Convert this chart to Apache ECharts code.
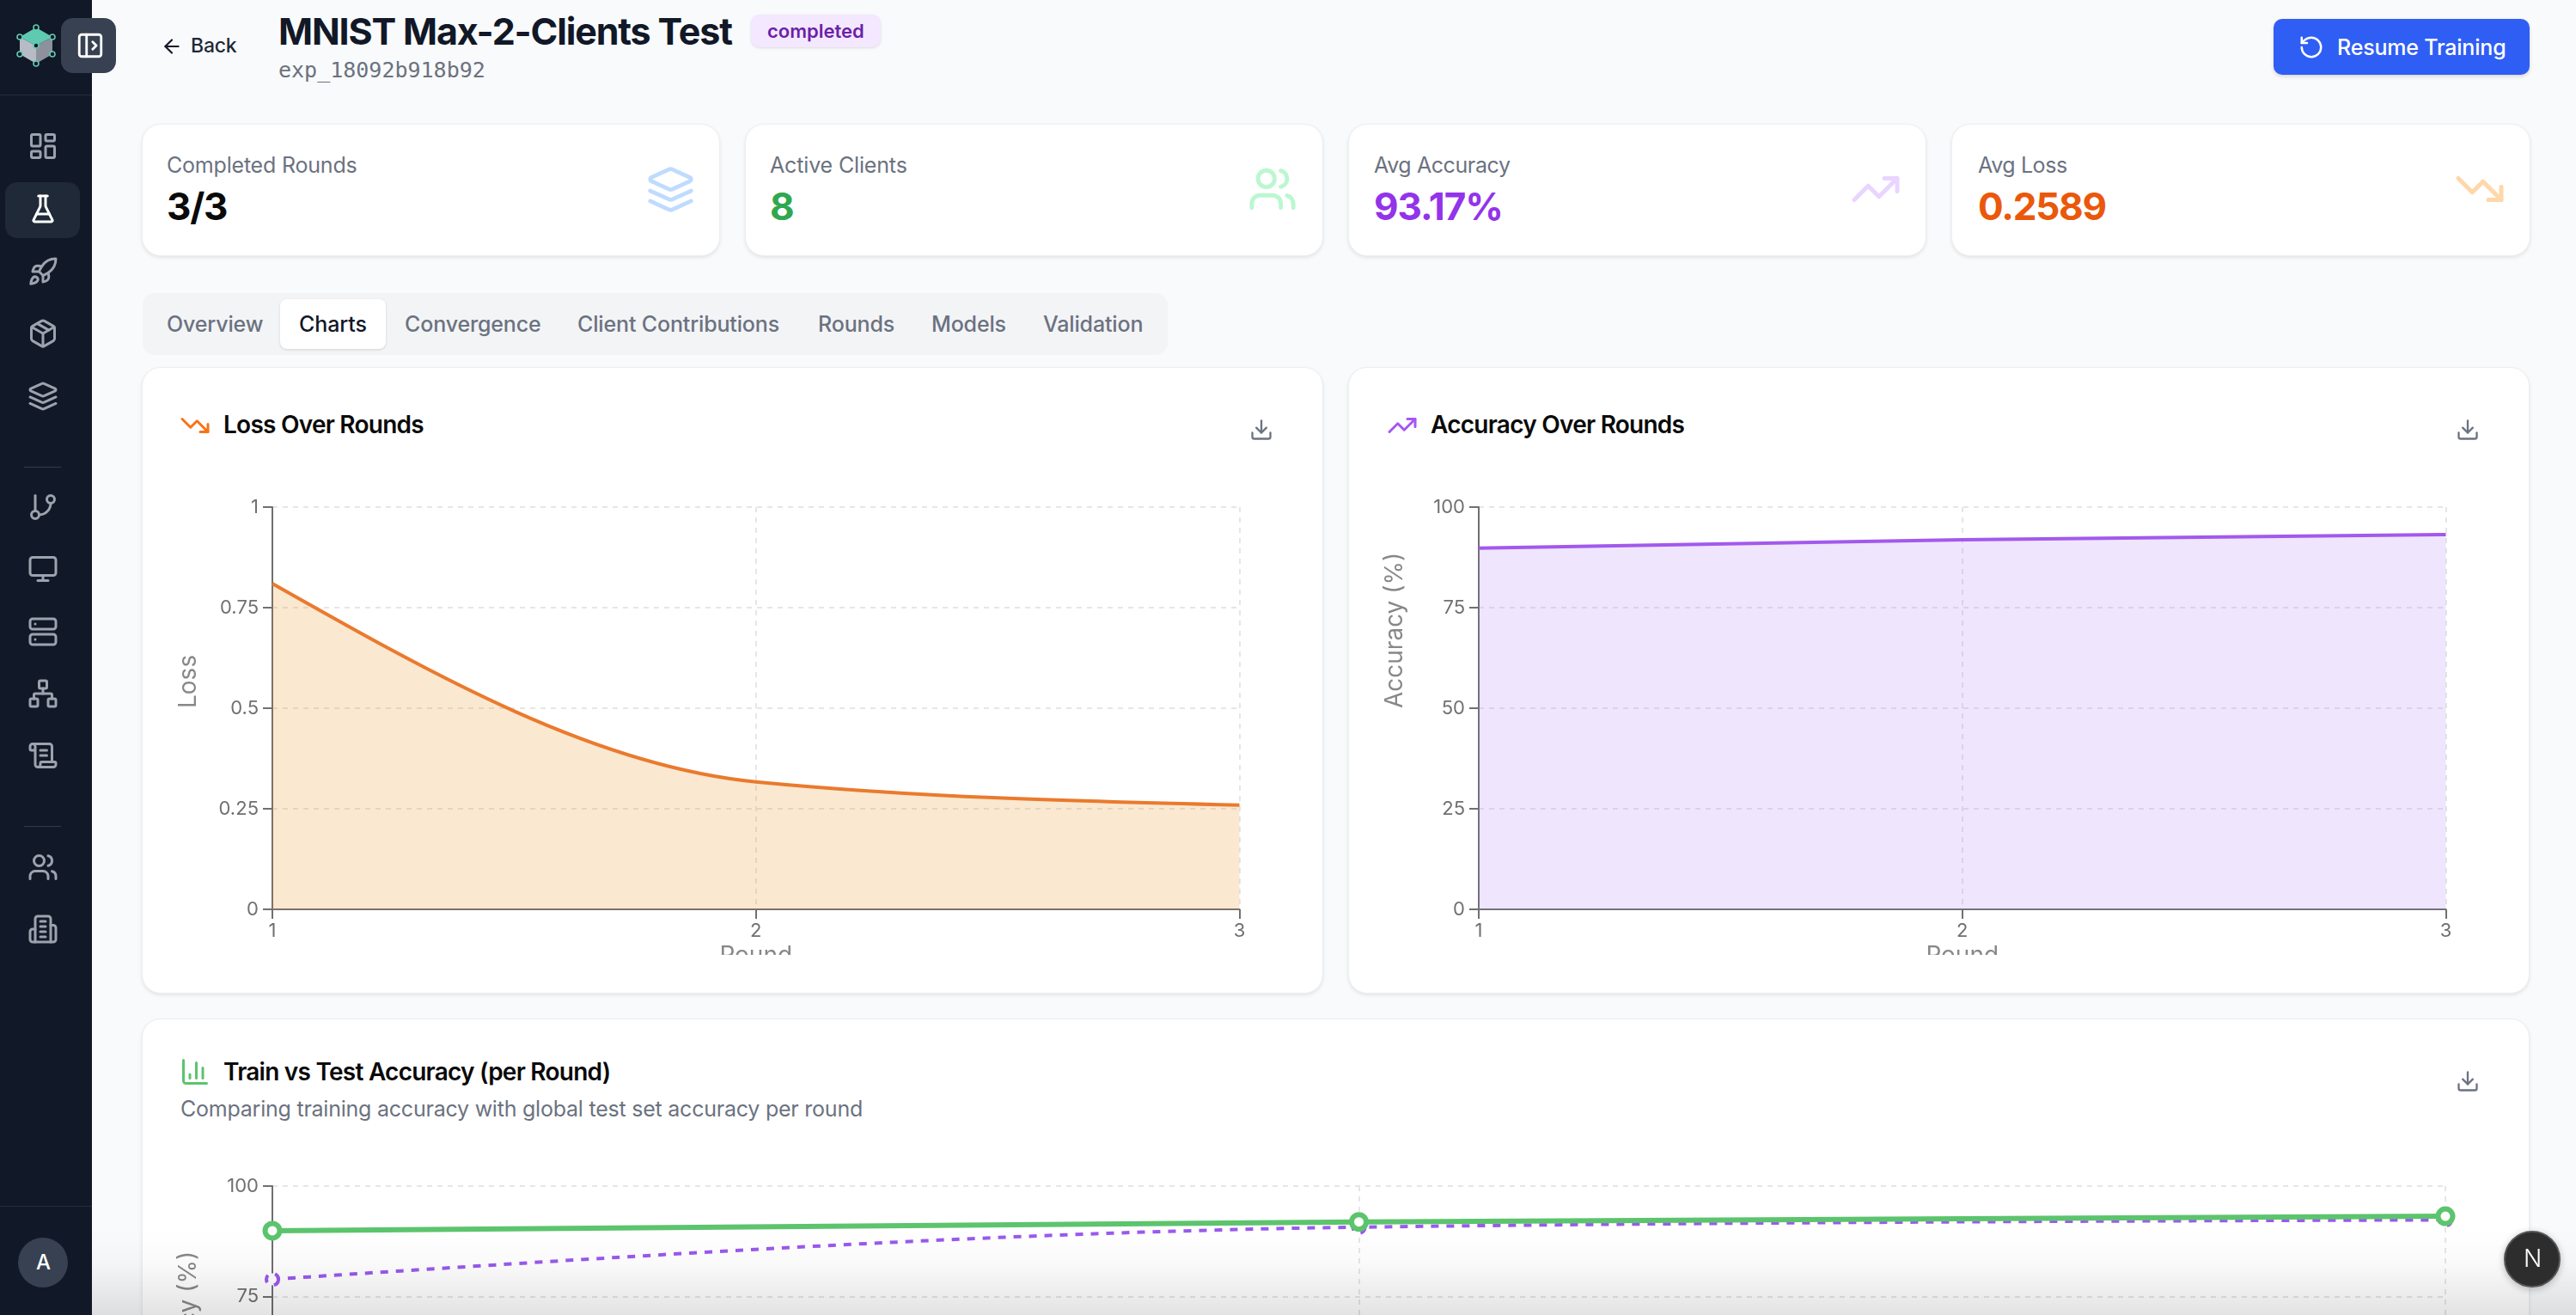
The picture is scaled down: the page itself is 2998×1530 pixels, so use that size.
<!DOCTYPE html>
<html>
<head>
<meta charset="utf-8">
<title>MNIST Max-2-Clients Test</title>
<script src="https://cdn.jsdelivr.net/npm/echarts@6/dist/echarts.min.js"></script>
<style>
html, body { margin: 0; padding: 0; width: 2998px; height: 1530px; overflow: hidden; background: #f9fafb; font-family: Inter, sans-serif; }
.box { position: absolute; box-sizing: border-box; }
.card { background: #fff; border: 1px solid #eceef1; border-radius: 22px; box-shadow: 0 2px 4px rgba(0,0,0,.09); }
.txt { position: absolute; white-space: nowrap; transform: translateY(-50%); line-height: 1.2; }
svg { position: absolute; fill: none; stroke-linecap: round; stroke-linejoin: round; }
.chart { position: absolute; }
</style>
</head>
<body>
<div class="box" style="left:0;top:0;width:107px;height:1530px;background:#111827"></div>
<div class="box" style="left:0;top:110px;width:107px;height:1px;background:#252d3b"></div>
<div class="box" style="left:28px;top:543px;width:43px;height:1px;background:#343b49"></div>
<div class="box" style="left:28px;top:961px;width:43px;height:1px;background:#343b49"></div>
<div class="box" style="left:0;top:1403px;width:107px;height:1px;background:#252d3b"></div>
<div class="box" style="left:6px;top:212px;width:87px;height:65px;border-radius:14px;background:#1f2937"></div>
<div class="box" style="left:71px;top:21px;width:64px;height:64px;border-radius:14px;background:#374151"></div>
<div class="box" style="left:21px;top:1440px;width:58px;height:58px;border-radius:50%;background:#374151"></div>

<svg style="left:16px;top:26px" width="54" height="54" viewBox="0 0 54 54">
  <path d="M26 27 L7 17 V37 L26 48 Z" fill="#b7bbc6"/>
  <path d="M26 27 L45 17 V37 L26 48 Z" fill="#8d919e"/>
  <path d="M26 6 L45 17 L26 27 L7 17 Z" fill="#5fcab0"/>
  <g stroke="#5fcab0" stroke-width="1.6" fill="#111827">
    <circle cx="26" cy="6" r="3"/><circle cx="7" cy="17" r="3"/><circle cx="45" cy="17" r="3"/>
    <circle cx="26" cy="27" r="3"/><circle cx="7" cy="37" r="3"/><circle cx="45" cy="37" r="3"/><circle cx="26" cy="48" r="3"/>
  </g>
</svg>

<div class="box card" style="left:165px;top:144px;width:673px;height:154px"></div>
<div class="box card" style="left:867px;top:144px;width:673px;height:154px"></div>
<div class="box card" style="left:1569px;top:144px;width:673px;height:154px"></div>
<div class="box card" style="left:2271px;top:144px;width:674px;height:154px"></div>

<div class="box" style="left:874px;top:17px;width:151px;height:38px;border-radius:10px;background:#f3e8ff;box-shadow:0 1px 3px rgba(0,0,0,.12)"></div>
<div class="box" style="left:2646px;top:22px;width:298px;height:65px;border-radius:10px;background:#2f5ef5;box-shadow:0 2px 4px rgba(0,0,0,.15)"></div>

<div class="box" style="left:166px;top:341px;width:1193px;height:72px;border-radius:14px;background:#f3f4f6"></div>
<div class="box" style="left:326px;top:348px;width:123px;height:58px;border-radius:8px;background:#fff;box-shadow:0 1px 3px rgba(0,0,0,.14)"></div>

<div class="box card" style="left:165px;top:427px;width:1375px;height:729px"></div>
<div class="box card" style="left:1569px;top:427px;width:1375px;height:729px"></div>
<div class="box card" style="left:165px;top:1185px;width:2779px;height:800px"></div>

<div id="chartLoss" class="chart" style="left:190px;top:570px;width:1300px;height:541px"></div>
<div id="chartAcc" class="chart" style="left:1594px;top:570px;width:1300px;height:541px"></div>
<div id="chartTrainTest" class="chart" style="left:190px;top:1360px;width:2700px;height:600px"></div>

<div id="ui"></div>

<div class="box" style="left:107px;top:1430px;width:2891px;height:100px;background:linear-gradient(to bottom,rgba(0,0,0,0),rgba(0,0,0,.02) 40%,rgba(0,0,0,.11))"></div>

<div class="box" style="left:2914px;top:1432px;width:66px;height:66px;border-radius:50%;background:#2d2d2d;border:2px solid #555;box-shadow:0 2px 8px rgba(0,0,0,.25)"></div>
<div class="txt" style="left:2937px;top:1465px;font-size:28px;font-weight:300;color:#fff">N</div>

<script>
// values
let rounds = ['1', '2', '3'];
let lossValues = [0.81, 0.317, 0.2589];
let accuracyValues = [89.8, 91.9, 93.17];
let trainAccuracy = [78.9, 90.7, 92.35];
let testAccuracy = [89.9, 91.9, 93.17];
let lossTicks = [0, 0.25, 0.5, 0.75, 1];
let accuracyTicks = [0, 25, 50, 75, 100];

let paths = {
    dashboard: '<rect x="3" y="3" width="7" height="9" rx="1"/><rect x="14" y="3" width="7" height="5" rx="1"/><rect x="14" y="12" width="7" height="9" rx="1"/><rect x="3" y="16" width="7" height="5" rx="1"/>',
    flask: '<path d="M10 2v7.527a2 2 0 0 1-.211.896L4.72 20.55a1 1 0 0 0 .9 1.45h12.76a1 1 0 0 0 .9-1.45l-5.069-10.127A2 2 0 0 1 14 9.527V2"/><path d="M8.5 2h7"/><path d="M7 16h10"/>',
    rocket: '<path d="M4.5 16.5c-1.5 1.26-2 5-2 5s3.74-.5 5-2c.71-.84.7-2.13-.09-2.91a2.18 2.18 0 0 0-2.91-.09z"/><path d="m12 15-3-3a22 22 0 0 1 2-3.95A12.88 12.88 0 0 1 22 2c0 2.72-.78 7.5-6 11a22.35 22.35 0 0 1-4 2z"/><path d="M9 12H4s.55-3.03 2-4c1.62-1.08 5 0 5 0"/><path d="M12 15v5s3.03-.55 4-2c1.08-1.62 0-5 0-5"/>',
    box: '<path d="M11 21.73a2 2 0 0 0 2 0l7-4A2 2 0 0 0 21 16V8a2 2 0 0 0-1-1.73l-7-4a2 2 0 0 0-2 0l-7 4A2 2 0 0 0 3 8v8a2 2 0 0 0 1 1.73z"/><path d="M12 22V12"/><path d="m3.3 7 8.7 5 8.7-5"/><path d="m7.5 4.27 9 5.15"/>',
    layers: '<path d="m12.83 2.18a2 2 0 0 0-1.66 0L2.6 6.08a1 1 0 0 0 0 1.83l8.58 3.91a2 2 0 0 0 1.66 0l8.58-3.9a1 1 0 0 0 0-1.83Z"/><path d="m22 17.65-9.17 4.16a2 2 0 0 1-1.66 0L2 17.65"/><path d="m22 12.65-9.17 4.16a2 2 0 0 1-1.66 0L2 12.65"/>',
    branch: '<path d="M6 3v12"/><circle cx="18" cy="6" r="3"/><circle cx="6" cy="18" r="3"/><path d="M18 9a9 9 0 0 1-9 9"/>',
    monitor: '<rect x="2" y="3" width="20" height="14" rx="2"/><path d="M8 21h8"/><path d="M12 17v4"/>',
    server: '<rect x="2" y="2" width="20" height="8" rx="2"/><rect x="2" y="14" width="20" height="8" rx="2"/><path d="M6 6h.01"/><path d="M6 18h.01"/>',
    network: '<rect x="16" y="16" width="6" height="6" rx="1"/><rect x="2" y="16" width="6" height="6" rx="1"/><rect x="9" y="2" width="6" height="6" rx="1"/><path d="M5 16v-3a1 1 0 0 1 1-1h12a1 1 0 0 1 1 1v3"/><path d="M12 12V8"/>',
    scroll: '<path d="M15 12h-5"/><path d="M15 8h-5"/><path d="M19 17V5a2 2 0 0 0-2-2H4"/><path d="M8 21h12a2 2 0 0 0 2-2v-1a1 1 0 0 0-1-1H11a1 1 0 0 0-1 1v1a2 2 0 1 1-4 0V5a2 2 0 1 0-4 0v2a1 1 0 0 0 1 1h3"/>',
    users: '<path d="M16 21v-2a4 4 0 0 0-4-4H6a4 4 0 0 0-4 4v2"/><circle cx="9" cy="7" r="4"/><path d="M22 21v-2a4 4 0 0 0-3-3.87"/><path d="M16 3.13a4 4 0 0 1 0 7.75"/>',
    building: '<path d="M6 22V4a2 2 0 0 1 2-2h8a2 2 0 0 1 2 2v18Z"/><path d="M6 12H4a2 2 0 0 0-2 2v6a2 2 0 0 0 2 2h2"/><path d="M18 9h2a2 2 0 0 1 2 2v9a2 2 0 0 1-2 2h-2"/><path d="M10 6h4"/><path d="M10 10h4"/><path d="M10 14h4"/><path d="M10 18h4"/>',
    panel: '<rect x="3" y="3" width="18" height="18" rx="2"/><path d="M9 3v18"/><path d="m14 9 3 3-3 3"/>',
    back: '<path d="m12 19-7-7 7-7"/><path d="M19 12H5"/>',
    resume: '<path d="M3 12a9 9 0 1 0 9-9 9.75 9.75 0 0 0-6.74 2.74L3 8"/><path d="M3 3v5h5"/>',
    down: '<path d="M16 17h6v-6"/><path d="m22 17-8.5-8.5-5 5L2 7"/>',
    up: '<path d="M16 7h6v6"/><path d="m22 7-8.5 8.5-5-5L2 17"/>',
    download: '<path d="M12 15V3"/><path d="M21 15v4a2 2 0 0 1-2 2H5a2 2 0 0 1-2-2v-4"/><path d="m7 10 5 5 5-5"/>',
    bars: '<path d="M3 3v16a2 2 0 0 0 2 2h16"/><path d="M18 17V9"/><path d="M13 17V5"/><path d="M8 17v-3"/>'
};

let ui = document.getElementById('ui');

function icon(name, cx, cy, size, color, width) {
    ui.insertAdjacentHTML('beforeend', `<svg style="left:${cx - size / 2}px;top:${cy - size / 2}px" width="${size}" height="${size}" viewBox="0 0 24 24" stroke="${color}" stroke-width="${width || 2}">${paths[name]}</svg>`);
}

function label(text, x, y, size, weight, color, spacing, font) {
    ui.insertAdjacentHTML('beforeend', `<div class="txt" style="left:${x}px;top:${y}px;font-size:${size}px;font-weight:${weight};color:${color};letter-spacing:${spacing || 0}px${font ? ';font-family:' + font : ''}">${text}</div>`);
}

// sidebar
[['dashboard', 170], ['rocket', 316], ['box', 388], ['layers', 461], ['branch', 590], ['monitor', 662],
 ['server', 735], ['network', 807], ['scroll', 879], ['users', 1009], ['building', 1081]].forEach(v => {
    icon(v[0], 50, v[1], 36, '#9ca3af');
});
icon('flask', 50, 243, 36, '#ffffff');
icon('panel', 105, 53, 34, '#ffffff');
label('A', 42, 1469, 24, 500, '#ffffff');

// header
icon('back', 200, 54, 26, '#111827');
label('Back', 222, 54, 23, 500, '#1f2937', -0.2);
label('MNIST Max-2-Clients Test', 324, 37, 43, 700, '#111827', -1.15);
label('completed', 893, 36, 22, 600, '#6b21a8');
label('exp_18092b918b92', 324, 82, 25, 400, '#6b7280', 0, "'DejaVu Sans Mono', monospace");
icon('resume', 2690, 55, 30, '#ffffff');
label('Resume Training', 2720, 55, 25, 500, '#ffffff', -0.2);

// stat cards
label('Completed Rounds', 194, 192, 25, 400, '#6b7280', -0.2);
label('3/3', 194, 240, 44, 700, '#0a0a0a', -1.2);
icon('layers', 780, 220, 57, '#bfdbfe');
label('Active Clients', 896, 192, 25, 400, '#6b7280', -0.15);
label('8', 896, 240, 44, 700, '#2fa84f', -1.2);
icon('users', 1481, 220, 58, '#bbf7d0');
label('Avg Accuracy', 1599, 192, 25, 400, '#6b7280', -0.4);
label('93.17%', 1599, 240, 44, 700, '#9333ea', -1);
icon('up', 2183, 220, 60, '#e9d5ff');
label('Avg Loss', 2302, 192, 25, 400, '#6b7280', -0.4);
label('0.2589', 2302, 240, 44, 700, '#ea580c', -1.2);
icon('down', 2886, 220, 60, '#fed7aa');

// tabs
[['Overview', 194], ['Convergence', 471], ['Client Contributions', 672], ['Rounds', 952], ['Models', 1084], ['Validation', 1214]].forEach(v => {
    label(v[0], v[1], 377, 25, 500, '#6b7280', -0.15);
});
label('Charts', 348, 377, 25, 500, '#111827', -0.1);

// card headings
icon('down', 227, 495, 36, '#f97316');
label('Loss Over Rounds', 260, 495, 28, 600, '#0a0a0a', -0.75);
icon('download', 1468, 500, 28, '#6b7280');
icon('up', 1632, 495, 36, '#a855f7');
label('Accuracy Over Rounds', 1665, 495, 28, 600, '#0a0a0a', -0.75);
icon('download', 2872, 500, 28, '#6b7280');
icon('bars', 227, 1247, 36, '#5cc46d');
label('Train vs Test Accuracy (per Round)', 260, 1248, 28, 600, '#0a0a0a', -0.75);
label('Comparing training accuracy with global test set accuracy per round', 210, 1290, 25, 400, '#6b7280', -0.23);
icon('download', 2872, 1258, 28, '#6b7280');

// same tangents as a monotone-x cubic, so the curve bends the way the picture does
function monotonePath(pts) {
    let slopes = pts.slice(0, -1).map((p, i) => (pts[i + 1][1] - p[1]) / (pts[i + 1][0] - p[0]));
    let tangents = pts.map((p, i) => {
        if (i === 0 || i === pts.length - 1) {
            return 0;
        }
        let a = slopes[i - 1], b = slopes[i];
        let h0 = p[0] - pts[i - 1][0], h1 = pts[i + 1][0] - p[0];
        let mid = (a * h1 + b * h0) / (h0 + h1);
        return (Math.sign(a) + Math.sign(b)) * Math.min(Math.abs(a), Math.abs(b), 0.5 * Math.abs(mid));
    });
    let last = pts.length - 1;
    tangents[0] = (3 * slopes[0] - tangents[1]) / 2;
    tangents[last] = (3 * slopes[last - 1] - tangents[last - 1]) / 2;

    let d = `M${pts[0][0]} ${pts[0][1]}`;
    for (let i = 0; i < last; i++) {
        let dx = (pts[i + 1][0] - pts[i][0]) / 3;
        d += `C${pts[i][0] + dx} ${pts[i][1] + dx * tangents[i]} ${pts[i + 1][0] - dx} ${pts[i + 1][1] - dx * tangents[i + 1]} ${pts[i + 1][0]} ${pts[i + 1][1]}`;
    }
    return d;
}

function curveSeries(name, values, conf) {
    return {
        name: name,
        type: 'custom',
        data: values.map((v, i) => [i, v]),
        encode: { x: 0, y: 1 },
        renderItem: (params, api) => {
            // the whole curve is drawn once, on the first item
            if (params.dataIndex !== 0) {
                return null;
            }
            let pts = values.map((v, i) => api.coord([i, v]));
            let d = monotonePath(pts);
            let children = [];
            if (conf.area) {
                let base = api.coord([0, 0])[1];
                children.push({
                    type: 'path',
                    shape: { pathData: `${d}L${pts[pts.length - 1][0]} ${base}L${pts[0][0]} ${base}Z` },
                    style: { fill: conf.area, opacity: 0.2 }
                });
            }
            children.push({
                type: 'path',
                shape: { pathData: d },
                style: { fill: 'none', stroke: conf.color, lineWidth: conf.width, lineDash: conf.dash }
            });
            if (conf.radius) {
                pts.forEach(p => {
                    children.push({
                        type: 'circle',
                        shape: { cx: p[0], cy: p[1], r: conf.radius },
                        style: { fill: '#ffffff', stroke: conf.color, lineWidth: conf.width, lineDash: conf.dash }
                    });
                });
            }
            return { type: 'group', children: children };
        }
    };
}

function axes(ticks, yName, grid) {
    let dashed = { show: true, lineStyle: { color: '#e6e6e6', width: 2, type: [6, 6] } };
    return {
        animation: false,
        grid: Object.assign({ outerBoundsMode: 'none' }, grid),
        xAxis: {
            type: 'category',
            data: rounds,
            boundaryGap: false,
            name: 'Round',
            nameLocation: 'middle',
            nameGap: 40,
            nameTextStyle: { fontFamily: 'Inter', fontSize: 28, color: '#888888' },
            axisLine: { lineStyle: { color: '#707070', width: 2 } },
            axisTick: { alignWithLabel: true, length: 11, lineStyle: { color: '#707070', width: 2 } },
            axisLabel: { margin: 14, fontFamily: 'Inter', fontSize: 22, color: '#707070' },
            splitLine: dashed
        },
        yAxis: {
            type: 'value',
            min: ticks[0],
            max: ticks[ticks.length - 1],
            interval: ticks[1] - ticks[0],
            name: yName,
            nameLocation: 'middle',
            nameGap: 97,
            nameRotate: 90,
            nameTextStyle: { fontFamily: 'Inter', fontSize: 28, color: '#888888', align: 'left', verticalAlign: 'middle' },
            axisLine: { show: true, lineStyle: { color: '#707070', width: 2 } },
            axisTick: { show: true, length: 11, lineStyle: { color: '#707070', width: 2 } },
            axisLabel: { margin: 16, fontFamily: 'Inter', fontSize: 22, color: '#707070' },
            splitLine: dashed
        }
    };
}

function areaChart(id, name, values, ticks, yName, lineColor, areaColor) {
    let option = axes(ticks, yName, { left: 127, top: 20, width: 1125.5, height: 468 });
    option.series = [curveSeries(name, values, { color: lineColor, width: 4, area: areaColor })];
    echarts.init(document.getElementById(id)).setOption(option);
}

areaChart('chartLoss', 'Loss', lossValues, lossTicks, 'Loss', '#ea7a2d', '#e68c19');
areaChart('chartAcc', 'Accuracy', accuracyValues, accuracyTicks, 'Accuracy (%)', '#a259ec', '#af7df5');

let trainTest = axes(accuracyTicks, 'Accuracy (%)', { left: 127, top: 20, width: 2529, height: 514 });
trainTest.series = [
    curveSeries('Train Accuracy', trainAccuracy, { color: '#9b59ee', width: 4, dash: [9, 9], radius: 7 }),
    curveSeries('Test Accuracy', testAccuracy, { color: '#5cc46d', width: 6, radius: 8.5 })
];
echarts.init(document.getElementById('chartTrainTest')).setOption(trainTest);
</script>
</body>
</html>
